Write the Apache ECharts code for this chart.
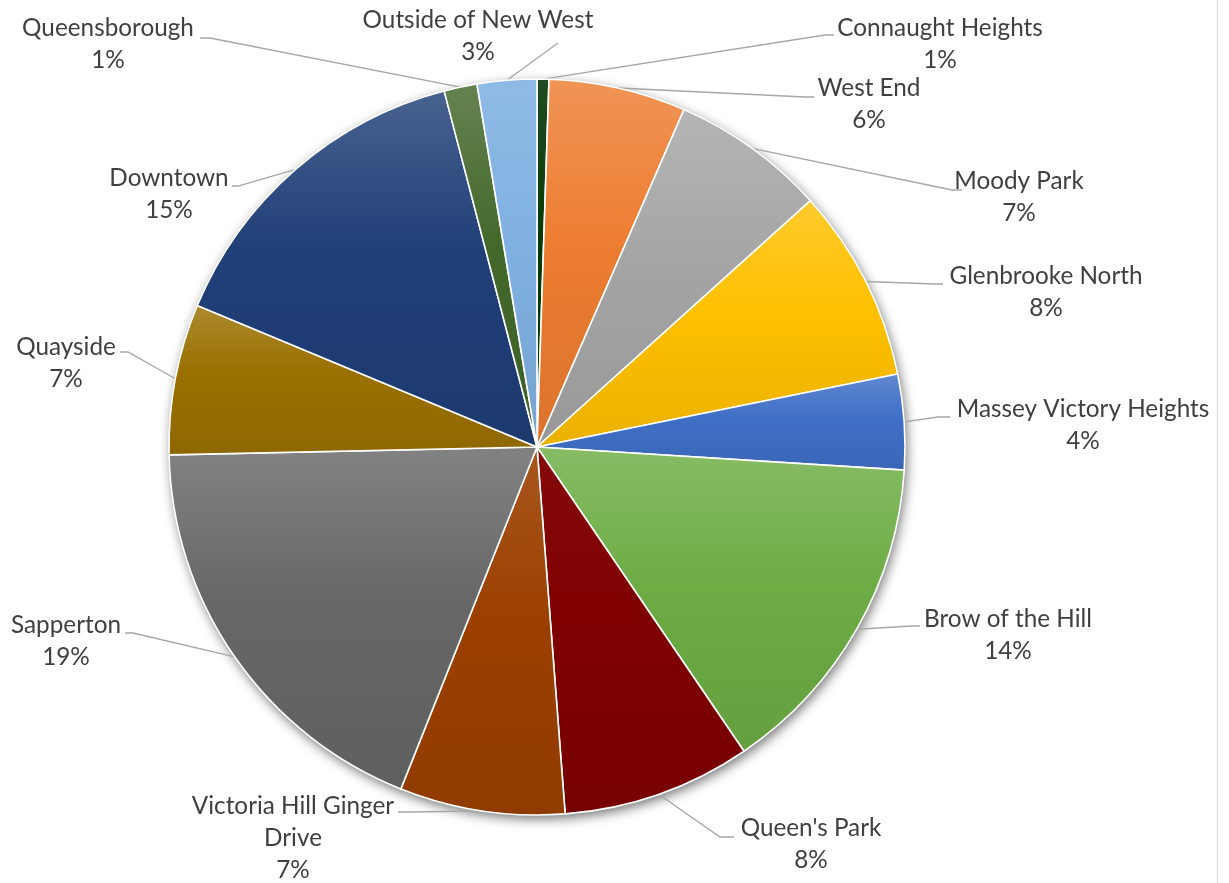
<!DOCTYPE html>
<html>
<head>
<meta charset="utf-8">
<script src="https://cdn.jsdelivr.net/npm/echarts@6/dist/echarts.min.js"></script>
<style>
  html, body { margin: 0; padding: 0; background: #ffffff; }
  #chart { width: 1229px; height: 883px; }
</style>
</head>
<body>
<div id="chart"></div>
<script>
// ---- data ----
const categories = ['Connaught Heights', 'West End', 'Moody Park', 'Glenbrooke North',
  'Massey Victory Heights', 'Brow of the Hill', "Queen's Park", 'Victoria Hill Ginger Drive',
  'Sapperton', 'Quayside', 'Downtown', 'Queensborough', 'Outside of New West'];
const shares = [0.52, 6.02, 6.79, 8.49, 4.18, 14.49, 8.29, 7.25, 18.63, 6.62, 14.66, 1.45, 2.61];

// ---- styles / layout (not data) ----
const baseColors = ['#073807', '#ED7D31', '#A5A5A5', '#FFC000', '#3F6FC6', '#6DAD44',
  '#800000', '#9C4000', '#676767', '#9A7000', '#203F78', '#43682B', '#80B1E1'];
const topTint = [0.1, 0.18, 0.18, 0.18, 0.18, 0.18, 0.04, 0.12, 0.18, 0.18, 0.18, 0.18, 0.12];
// label block centres
const labelSpots = [[940, 44], [869, 104], [1019, 197], [1046, 292], [1083, 425], [1008, 635],
  [811, 844], [293, 838], [66, 641], [66, 363], [169, 194], [108, 44], [478, 36]];
// leader line bend + end points
const leaderBends = [
  [[825, 35], [834, 35]], [[805, 97], [814, 97]], [[952, 190], [962, 190]],
  [[935, 284], [943, 284]], [[938, 417], [950, 417]], [[912, 626], [920, 626]],
  [[720, 837], [734, 837]], [[410, 812], [398, 812]], [[133, 633], [125, 633]],
  [[128, 352], [120, 352]], [[238, 186], [232, 186]], [[210, 38], [200, 38]],
  [[558, 43], [558, 43]]];
const CX = 537, CY = 447, R = 368;

function mix(hex, target, t) {
  const n = parseInt(hex.slice(1), 16);
  const r = (n >> 16) & 255, g = (n >> 8) & 255, b = n & 255;
  const f = c => Math.round(c + (target - c) * t);
  return 'rgb(' + f(r) + ',' + f(g) + ',' + f(b) + ')';
}
function grad(hex, tint) {
  return new echarts.graphic.LinearGradient(0, 0, 0, 1, [
    { offset: 0, color: mix(hex, 255, tint) },
    { offset: 0.45, color: hex },
    { offset: 1, color: mix(hex, 0, 0.08) }
  ]);
}
function wrap(name, maxChars) {
  const words = name.split(' ');
  const lines = [];
  let cur = '';
  words.forEach(w => {
    const test = cur ? cur + ' ' + w : w;
    if (test.length > maxChars && cur) { lines.push(cur); cur = w; }
    else cur = test;
  });
  if (cur) lines.push(cur);
  return lines.join('\n');
}

const total = shares.reduce((a, b) => a + b, 0);
const cumStart = [];
shares.reduce((acc, v, i) => { cumStart[i] = acc; return acc + v; }, 0);

const data = categories.map((c, i) => ({
  name: c,
  value: shares[i],
  itemStyle: { color: grad(baseColors[i], topTint[i]) }
}));

const chart = echarts.init(document.getElementById('chart'), null, { renderer: 'canvas' });
chart.setOption({
  backgroundColor: '#ffffff',
  animation: false,
  graphic: [{
    type: 'line', shape: { x1: 1217.5, y1: 0, x2: 1217.5, y2: 883 },
    style: { stroke: '#d9d9d9', lineWidth: 1 }, silent: true
  }],
  series: [
    {
      type: 'pie',
      silent: true,
      center: [CX, CY],
      radius: R,
      z: 1,
      label: { show: false },
      labelLine: { show: false },
      itemStyle: {
        color: '#ffffff',
        shadowBlur: 12,
        shadowColor: 'rgba(0,0,0,0.55)',
        shadowOffsetX: 2,
        shadowOffsetY: 4
      },
      data: [{ value: 1, name: '' }]
    },
    {
      type: 'pie',
      center: [CX, CY],
      radius: R,
      startAngle: 90,
      clockwise: true,
      z: 2,
      avoidLabelOverlap: false,
      itemStyle: { borderColor: '#ffffff', borderWidth: 1.6 },
      label: {
        show: true,
        position: 'outside',
        color: '#404040',
        fontFamily: 'Lato',
        fontSize: 24.3,
        lineHeight: 32,
        align: 'center',
        formatter: p => wrap(p.name, 22) + '\n' + Math.round(p.value / total * 100) + '%'
      },
      labelLine: {
        show: true,
        lineStyle: { color: '#a6a6a6', width: 1.3 }
      },
      labelLayout: function (p) {
        if (p.seriesIndex !== 1) return {};
        const i = p.dataIndex;
        const mid = (cumStart[i] + shares[i] / 2) / total * Math.PI * 2;
        const edge = [CX + R * Math.sin(mid), CY - R * Math.cos(mid)];
        const s = labelSpots[i];
        const b = leaderBends[i];
        return {
          x: s[0], y: s[1], align: 'center', verticalAlign: 'middle',
          labelLinePoints: [edge, b[0], b[1]]
        };
      },
      data: data
    }
  ]
});
</script>
</body>
</html>
